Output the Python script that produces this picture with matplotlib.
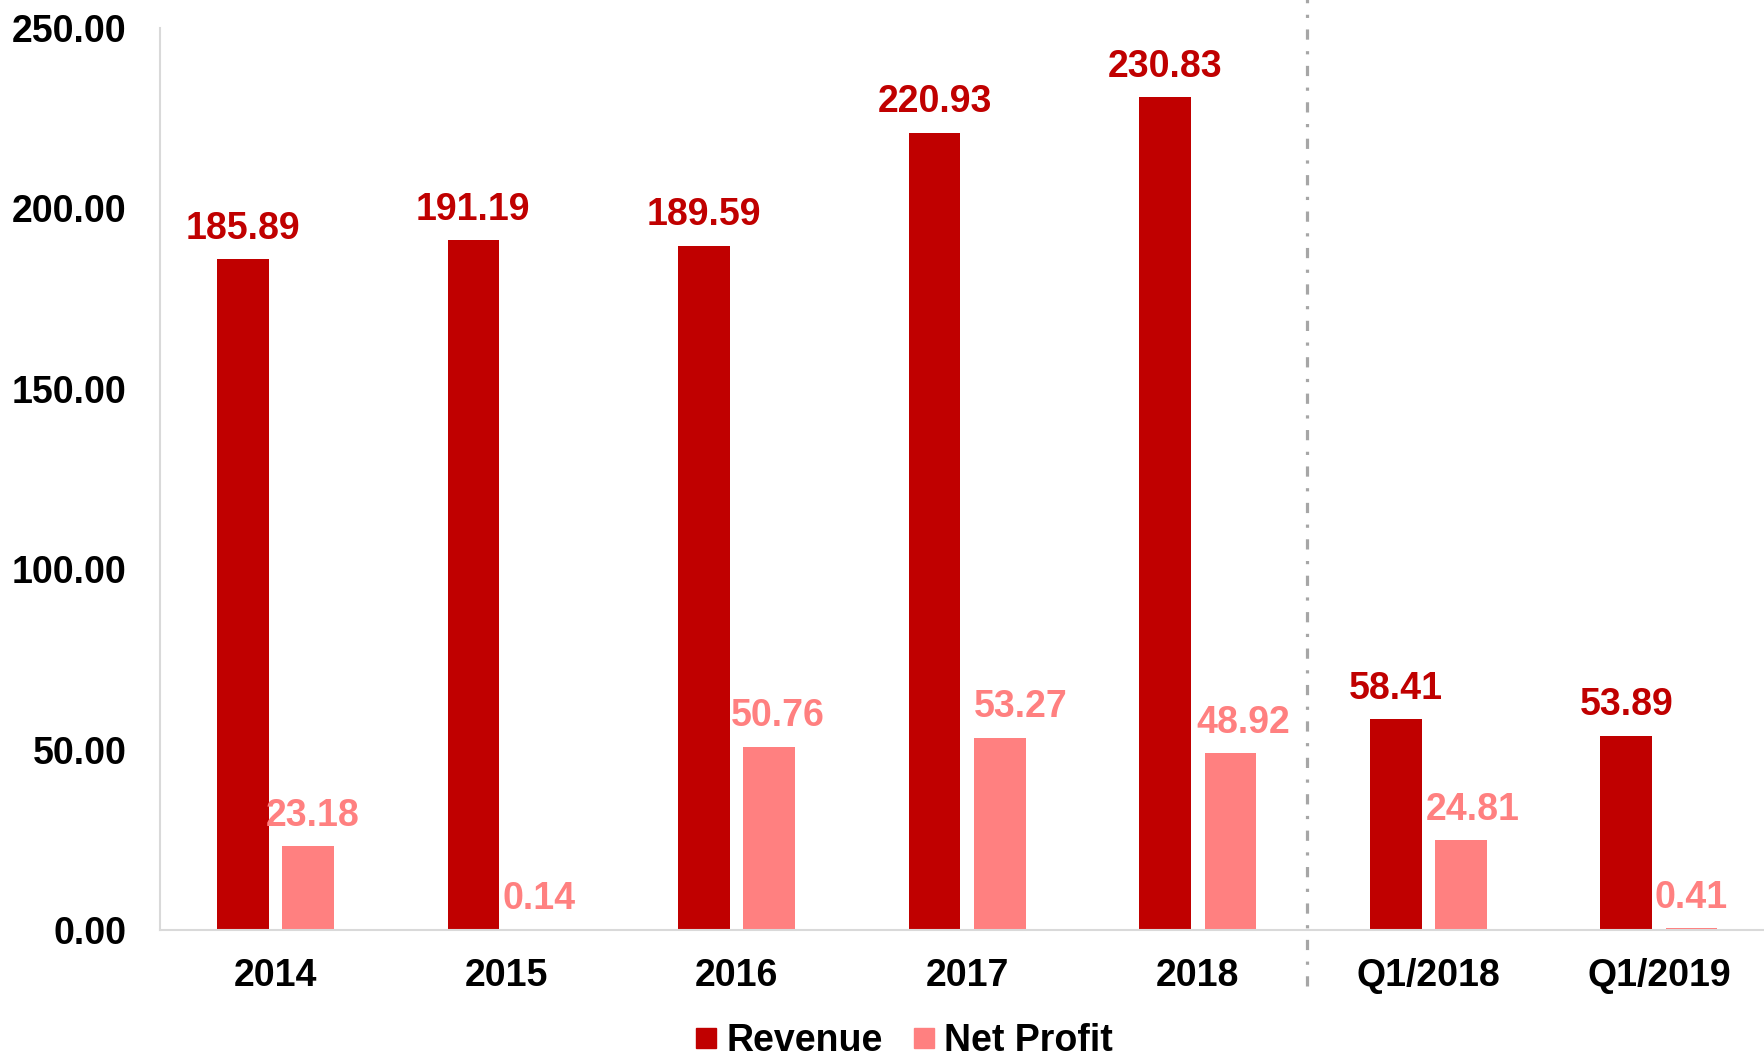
import numpy as np
import matplotlib.pyplot as plt
from matplotlib.lines import Line2D

plt.rcParams.update({
    "font.family": ["Liberation Sans", "DejaVu Sans"],
    "font.weight": "bold",
})

# data
categories = ["2014", "2015", "2016", "2017", "2018", "Q1/2018", "Q1/2019"]
revenue = [185.89, 191.19, 189.59, 220.93, 230.83, 58.41, 53.89]
net_profit = [23.18, 0.14, 50.76, 53.27, 48.92, 24.81, 0.41]
y_ticks = [0, 50, 100, 150, 200, 250]

# the net profit labels in the original sit a bit right of their bars (points)
np_label_nudge = [3.5, 0, 6, 15, 9, 8.5, -0.5]

REV_COLOR = "#C00000"
NP_COLOR = "#FF8080"
FS = 27

fig = plt.figure(figsize=(17.65, 10.57), dpi=100)
ax = fig.add_axes([0.0907, 0.1202, 0.9093, 0.8533])

x = np.arange(len(categories))
w = 0.224
off = 0.1415
ax.bar(x - off, revenue, width=w, color=REV_COLOR)
ax.bar(x + off, net_profit, width=w, color=NP_COLOR)

for xi, v in zip(x, revenue):
    ax.annotate(f"{v:.2f}", (xi - off, v), xytext=(0, 9), textcoords="offset points",
                ha="center", va="bottom", color=REV_COLOR, fontsize=FS, fontweight="bold")
for xi, v, dx in zip(x, net_profit, np_label_nudge):
    ax.annotate(f"{v:.2f}", (xi + off, v), xytext=(dx, 9), textcoords="offset points",
                ha="center", va="bottom", color=NP_COLOR, fontsize=FS, fontweight="bold")

ax.set_ylim(0, 250)
ax.set_xlim(-0.5, 6.46)
ax.set_yticks(y_ticks)
ax.set_yticklabels([f"{t:.2f}" for t in y_ticks], fontsize=FS, fontweight="bold")
ax.set_xticks(x)
ax.set_xticklabels(categories, fontsize=FS, fontweight="bold")
ax.tick_params(axis="both", length=0)
ax.tick_params(axis="y", pad=24)
ax.tick_params(axis="x", pad=20)

for s in ["top", "right"]:
    ax.spines[s].set_visible(False)
for s in ["left", "bottom"]:
    ax.spines[s].set_color("#D9D9D9")
    ax.spines[s].set_linewidth(1.5)

# divider between annual and quarterly figures
ax.axvline(4.473, ymin=-0.062, ymax=1.033, clip_on=False, color="#A6A6A6", lw=2.3,
           linestyle=(0, (3.2, 3.6, 1.0, 3.6)))

handles = [Line2D([], [], marker="s", linestyle="none", markersize=14, color=REV_COLOR),
           Line2D([], [], marker="s", linestyle="none", markersize=14, color=NP_COLOR)]
fig.legend(handles, ["Revenue", "Net Profit"], loc="center", bbox_to_anchor=(0.511, 0.015),
           ncol=2, frameon=False, fontsize=FS, handletextpad=0.15, columnspacing=0.7,
           handlelength=0.8)

fig.savefig("out.png", dpi=100)
